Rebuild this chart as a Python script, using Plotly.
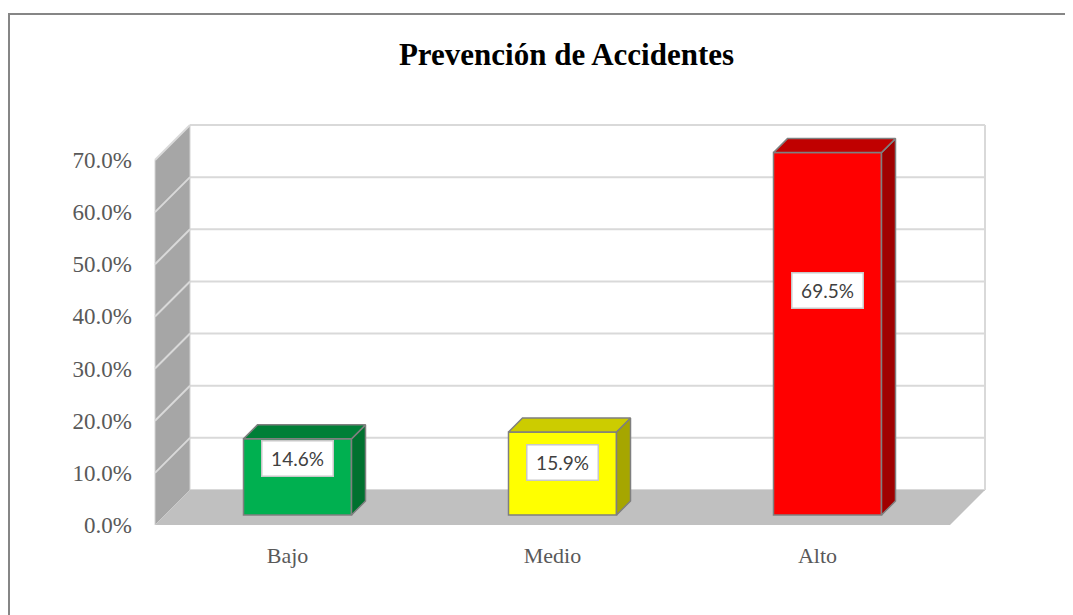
import plotly.graph_objects as go

# ---- data ----
categories = ["Bajo", "Medio", "Alto"]
values = [14.6, 15.9, 69.5]          # percent
y_ticks = [0, 10, 20, 30, 40, 50, 60, 70]
title_text = "Prevención de Accidentes"

# ---- styling / geometry ----
front_colors = ["#00B050", "#FFFF00", "#FF0000"]
top_colors = ["#007F37", "#CCCC00", "#C00000"]
side_colors = ["#00712F", "#A6A600", "#A00000"]
label_frac = [0.74, 0.63, 0.62]       # vertical placement of data labels inside bars
edge = "#7F7F7F"

OFF = 8                                # page body margin of the browser
W, H = 1073 - OFF, 615 - OFF
L, R, T, B = 145 - OFF, 1000 - OFF, 100 - OFF, 532 - OFF   # plot area (figure px)
PX_X = 265.0                           # px per category unit
PX_Y = 5.2143                          # px per percent
X_LEFT_EDGE = 155 - OFF                # pixel of x = -0.5 on front plane
Y_ZERO = 525 - OFF                     # pixel of 0% on front plane
DEPTH = 35                             # px depth of the 3D box
D1, D2 = 10, 24                        # bar front / back depth (px)
BAR_W = 108 / PX_X
YMAX = max(y_ticks)

xr = [-0.5 - (X_LEFT_EDGE - L) / PX_X, -0.5 + (R - X_LEFT_EDGE) / PX_X]
yr = [-(B - Y_ZERO) / PX_Y, (Y_ZERO - T) / PX_Y]


def P(x, y, d):
    """project (x, value, depth px) onto the 2D axes"""
    return x + d / PX_X, y + d / PX_Y


def path(pts):
    q = [P(*p) for p in pts]
    return "M " + " L ".join(f"{a},{b}" for a, b in q) + " Z"


def poly(pts, fill, line_color, lw):
    xs, ys = zip(*[P(*p) for p in pts])
    xs = list(xs) + [xs[0]]
    ys = list(ys) + [ys[0]]
    return go.Scatter(x=xs, y=ys, mode="lines", fill="toself", fillcolor=fill,
                      line=dict(color=line_color, width=lw),
                      hoverinfo="skip", showlegend=False)


shapes = []


def shape_poly(pts, fill, line_color=None, lw=0):
    shapes.append(dict(type="path", xref="x", yref="y", layer="below", path=path(pts),
                       fillcolor=fill, line=dict(color=line_color or fill, width=lw)))


def shape_seg(p0, p1, color, lw):
    (a0, b0), (a1, b1) = P(*p0), P(*p1)
    shapes.append(dict(type="line", xref="x", yref="y", layer="below",
                       x0=a0, y0=b0, x1=a1, y1=b1, line=dict(color=color, width=lw)))


x0, x1 = -0.5, len(categories) - 0.5
# back wall
shape_poly([(x0, 0, DEPTH), (x1, 0, DEPTH), (x1, YMAX, DEPTH), (x0, YMAX, DEPTH)], "#FFFFFF")
for v in y_ticks:
    shape_seg((x0, v, DEPTH), (x1, v, DEPTH), "#D9D9D9", 2)
shape_seg((x1, 0, DEPTH), (x1, YMAX, DEPTH), "#D9D9D9", 2)
# left wall
shape_poly([(x0, 0, 0), (x0, YMAX, 0), (x0, YMAX, DEPTH), (x0, 0, DEPTH)], "#A6A6A6", "#D4D4D4", 1)
for v in y_ticks[1:]:
    shape_seg((x0, v, 0), (x0, v, DEPTH), "#D9D9D9", 2)
# floor
shape_poly([(x0, 0, 0), (x1, 0, 0), (x1, 0, DEPTH), (x0, 0, DEPTH)], "#C0C0C0")

traces = []
# bar front faces
fx = [P(i, 0, D1)[0] for i in range(len(values))]
base = P(0, 0, D1)[1]
traces.append(go.Bar(x=fx, y=values, base=[base] * len(values), width=BAR_W,
                     marker=dict(color=front_colors, line=dict(color=edge, width=1.5)),
                     hoverinfo="skip", showlegend=False))
# bar side and top faces
for i, v in enumerate(values):
    xl, xrr = i - BAR_W / 2, i + BAR_W / 2
    traces.append(poly([(xrr, 0, D1), (xrr, v, D1), (xrr, v, D2), (xrr, 0, D2)],
                       side_colors[i], edge, 1.5))
    traces.append(poly([(xl, v, D1), (xrr, v, D1), (xrr, v, D2), (xl, v, D2)],
                       top_colors[i], edge, 1.5))

fig = go.Figure(traces)

# data labels
for i, v in enumerate(values):
    lx, ly = P(i, label_frac[i] * v, D1)
    fig.add_annotation(x=lx, y=ly, xref="x", yref="y", text=f"{v:.1f}%",
                       showarrow=False, font=dict(family="Lato", size=19, color="#404040"),
                       bgcolor="#FFFFFF", bordercolor="#C8C8C8", borderwidth=1.5,
                       borderpad=4, width=62, height=26)

# outer chart border
shapes.append(dict(type="rect", xref="paper", yref="paper",
                   x0=(1 - L) / (R - L), x1=(1090 - L) / (R - L),
                   y0=(B - 640) / (B - T), y1=(B - (14 - OFF)) / (B - T),
                   line=dict(color="#868686", width=2), fillcolor="rgba(0,0,0,0)"))

fig.update_layout(
    width=W, height=H,
    shapes=shapes,
    margin=dict(l=L, r=W - R, t=T, b=H - B),
    paper_bgcolor="#FFFFFF", plot_bgcolor="rgba(0,0,0,0)",
    title=dict(text=f"<b>{title_text}</b>", x=(566.5 - OFF) / W, xref="container",
               y=1 - (54 - OFF) / H, yref="container", xanchor="center", yanchor="middle",
               font=dict(family="Liberation Serif", size=31, color="#000000")),
    barmode="overlay",
    xaxis=dict(range=xr, tickmode="array", tickvals=list(range(len(categories))),
               ticktext=categories, showgrid=False, zeroline=False, showline=False,
               ticks="", ticklabelstandoff=8,
               tickfont=dict(family="Liberation Serif", size=22, color="#595959")),
    yaxis=dict(range=yr, tickmode="array", tickvals=y_ticks,
               ticktext=[f"{t:.1f}%" for t in y_ticks], showgrid=False,
               zeroline=False, showline=False, ticks="", ticklabelstandoff=12,
               tickfont=dict(family="Liberation Serif", size=23, color="#595959")),
)

fig.write_html("out.html")
